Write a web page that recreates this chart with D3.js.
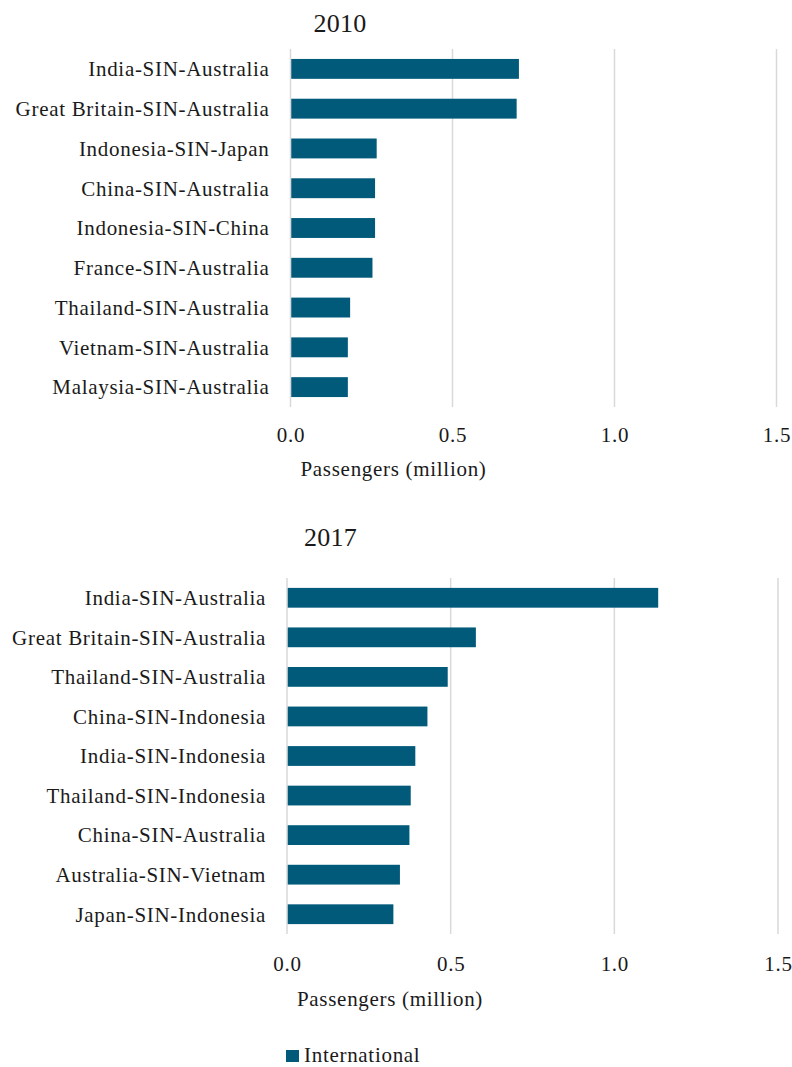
<!DOCTYPE html>
<html>
<head>
<meta charset="utf-8">
<script src="https://cdn.jsdelivr.net/npm/d3@7"></script>
<style>
  html, body { margin: 0; padding: 0; background: #fff; }
  svg text { font-family: "Liberation Serif", "DejaVu Serif", serif; fill: #1a1a1a; }
</style>
</head>
<body>
<svg id="chart" width="792" height="1067"></svg>
<script>
// Top transfer routes via Singapore (SIN), passengers in millions
const routes2010 = [
  "India-SIN-Australia", "Great Britain-SIN-Australia", "Indonesia-SIN-Japan",
  "China-SIN-Australia", "Indonesia-SIN-China", "France-SIN-Australia",
  "Thailand-SIN-Australia", "Vietnam-SIN-Australia", "Malaysia-SIN-Australia"
];
const values2010 = [0.705, 0.698, 0.266, 0.261, 0.261, 0.253, 0.184, 0.177, 0.177];

const routes2017 = [
  "India-SIN-Australia", "Great Britain-SIN-Australia", "Thailand-SIN-Australia",
  "China-SIN-Indonesia", "India-SIN-Indonesia", "Thailand-SIN-Indonesia",
  "China-SIN-Australia", "Australia-SIN-Vietnam", "Japan-SIN-Indonesia"
];
const values2017 = [1.134, 0.577, 0.491, 0.429, 0.392, 0.378, 0.374, 0.345, 0.325];

const xTicks = [0, 0.5, 1.0, 1.5];
const xTitle = "Passengers (million)";
const seriesName = "International";

const BAR = "#015a7a";
const GRID = "#d9d9d9";
const FS = 21;      // body text size
const LS = 0.7;     // letter spacing for body text

const svg = d3.select("#chart");

function panel(cfg) {
  const g = svg.append("g");
  const x = d3.scaleLinear().domain([0, 1.5]).range([cfg.x0, cfg.x1]);
  const y = d3.scaleBand().domain(cfg.routes).range([cfg.top, cfg.bottom]).paddingInner(0.5).paddingOuter(0.25);

  // vertical gridlines
  g.selectAll("line.grid").data(xTicks).join("line")
    .attr("class", "grid")
    .attr("x1", d => x(d)).attr("x2", d => x(d))
    .attr("y1", cfg.top).attr("y2", cfg.bottom)
    .attr("stroke", GRID).attr("stroke-width", 1.5);

  // bars
  g.selectAll("rect.bar").data(cfg.values).join("rect")
    .attr("class", "bar")
    .attr("x", x(0) + 0.75)
    .attr("y", (d, i) => y(cfg.routes[i]))
    .attr("width", d => x(d) - x(0) - 0.75)
    .attr("height", y.bandwidth())
    .attr("fill", BAR);

  // category labels
  g.selectAll("text.cat").data(cfg.routes).join("text")
    .attr("class", "cat")
    .attr("x", cfg.x0 - 21)
    .attr("y", d => y(d) + y.bandwidth() / 2)
    .attr("dy", "0.35em")
    .attr("text-anchor", "end")
    .attr("font-size", FS)
    .attr("letter-spacing", LS)
    .text(d => d);

  // tick labels
  const axis = d3.axisBottom(x).tickValues(xTicks).tickFormat(d3.format(".1f")).tickSize(0).tickPadding(0);
  const ax = g.append("g").attr("transform", `translate(0,${cfg.tickY})`).call(axis);
  ax.select(".domain").remove();
  ax.selectAll("text")
    .attr("font-size", FS)
    .attr("letter-spacing", LS)
    .attr("fill", "#1a1a1a")
    .attr("font-family", "Liberation Serif, serif")
    .attr("dy", 0);

  // axis title
  g.append("text")
    .attr("x", cfg.axisTitleX).attr("y", cfg.xTitleY)
    .attr("text-anchor", "middle")
    .attr("font-size", FS)
    .attr("letter-spacing", LS)
    .text(xTitle);

  // panel title
  g.append("text")
    .attr("x", cfg.headX).attr("y", cfg.headY)
    .attr("text-anchor", "middle")
    .attr("font-size", 26)
    .attr("letter-spacing", 0.3)
    .text(cfg.year);
}

panel({ year: "2010", routes: routes2010, values: values2010,
  x0: 290.5, x1: 776.5, top: 49, bottom: 407,
  tickY: 442, xTitleY: 476, headY: 31.5, headX: 340, axisTitleX: 393.5 });

panel({ year: "2017", routes: routes2017, values: values2017,
  x0: 287, x1: 778, top: 578, bottom: 934,
  tickY: 970.5, xTitleY: 1006, headY: 546, headX: 330.5, axisTitleX: 390 });

// legend
const lg = svg.append("g").attr("transform", "translate(286,1050)");
lg.append("rect").attr("width", 13).attr("height", 12).attr("fill", BAR);
lg.append("text").attr("x", 18).attr("y", 12)
  .attr("font-size", FS).attr("letter-spacing", LS).text(seriesName);
</script>
</body>
</html>
